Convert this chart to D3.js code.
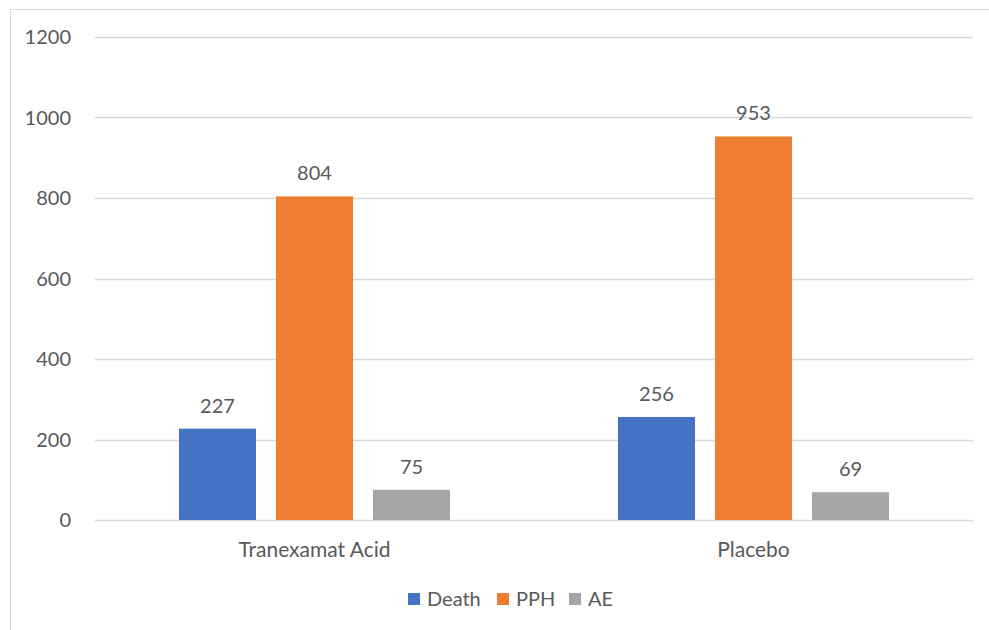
<!DOCTYPE html>
<html>
<head>
<meta charset="utf-8">
<script src="https://cdn.jsdelivr.net/npm/d3@7"></script>
<style>
  body { margin: 0; background: #fff; }
  text { font-family: Lato, "Open Sans", sans-serif; fill: #595959; }
</style>
</head>
<body>
<svg id="chart" width="989" height="630"></svg>
<script>
var categories = ["Tranexamat Acid", "Placebo"];
var seriesNames = ["Death", "PPH", "AE"];
var seriesColors = ["#4472c4", "#ed7d31", "#a5a5a5"];
var death = [227, 256];
var pph = [804, 953];
var ae = [75, 69];
var yTicks = [0, 200, 400, 600, 800, 1000, 1200];

var seriesValues = [death, pph, ae];
var margin = {top: 37, left: 95, right: 16, bottom: 110};
var width = 989, height = 630;

var svg = d3.select("#chart");

// chart border
svg.append("rect")
    .attr("x", 10.5).attr("y", 9.5)
    .attr("width", 1000).attr("height", 700)
    .attr("fill", "none")
    .attr("stroke", "#d9d9d9")
    .attr("stroke-width", 1);

var x0 = d3.scaleBand()
    .domain(categories)
    .range([margin.left, width - margin.right]);

var x1 = d3.scaleBand()
    .domain(seriesNames)
    .range([0, x0.bandwidth()])
    .paddingInner(0.206)
    .paddingOuter(0.866);

var y = d3.scaleLinear()
    .domain([0, 1200])
    .range([520, margin.top]);

// gridlines
svg.append("g")
    .selectAll("line")
    .data(yTicks)
    .join("line")
    .attr("x1", margin.left)
    .attr("x2", width - margin.right)
    .attr("y1", d => Math.round(y(d)) + 0.5)
    .attr("y2", d => Math.round(y(d)) + 0.5)
    .attr("stroke", "#d9d9d9")
    .attr("stroke-width", 1.3);

// y tick labels
svg.append("g")
    .selectAll("text")
    .data(yTicks)
    .join("text")
    .attr("x", 71)
    .attr("y", d => y(d))
    .attr("dy", "0.35em")
    .attr("text-anchor", "end")
    .style("font-size", "20px")
    .text(d => d);

// bars
var groups = svg.append("g")
    .selectAll("g")
    .data(categories)
    .join("g")
    .attr("transform", d => "translate(" + x0(d) + ",0)");

groups.each(function(cat, ci) {
    var g = d3.select(this);
    seriesNames.forEach(function(s, si) {
        var v = seriesValues[si][ci];
        g.append("rect")
            .attr("x", x1(s))
            .attr("y", y(v))
            .attr("width", x1.bandwidth())
            .attr("height", y(0) - y(v))
            .attr("fill", seriesColors[si]);
        g.append("text")
            .attr("x", x1(s) + x1.bandwidth() / 2)
            .attr("y", y(v) - 16)
            .attr("text-anchor", "middle")
            .style("font-size", "20px")
            .text(v);
    });
});

// category labels
svg.append("g")
    .selectAll("text")
    .data(categories)
    .join("text")
    .attr("x", d => x0(d) + x0.bandwidth() / 2)
    .attr("y", 557)
    .attr("text-anchor", "middle")
    .style("font-size", "21px")
    .text(d => d);

// legend
var legendX = [408, 497, 569];
var legend = svg.append("g")
    .selectAll("g")
    .data(seriesNames)
    .join("g")
    .attr("transform", (d, i) => "translate(" + legendX[i] + ",593)");

legend.append("rect")
    .attr("width", 12).attr("height", 12)
    .attr("fill", (d, i) => seriesColors[i]);

legend.append("text")
    .attr("x", 19)
    .attr("y", 6)
    .attr("dy", "0.35em")
    .style("font-size", "20px")
    .text(d => d);
</script>
</body>
</html>
